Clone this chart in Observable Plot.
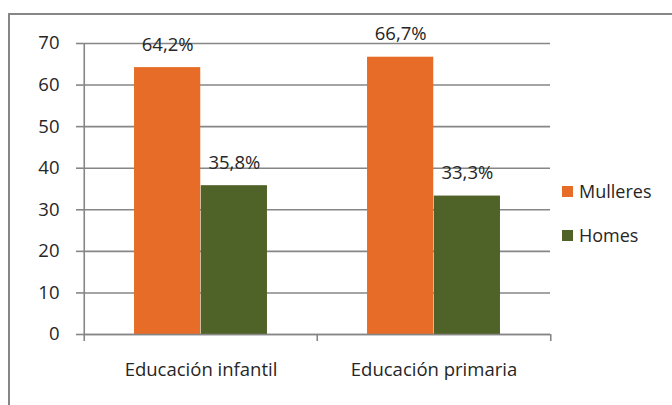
<!DOCTYPE html>
<html>
<head>
<meta charset="utf-8">
<script src="https://cdn.jsdelivr.net/npm/d3@7"></script>
<script src="https://cdn.jsdelivr.net/npm/@observablehq/plot@0.6"></script>
<style>
  html, body { margin: 0; padding: 0; background: #fff; overflow: hidden; width: 672px; height: 405px; }
  #wrap { position: relative; width: 672px; height: 405px; font-family: "Open Sans", sans-serif; }
  #border { position: absolute; left: 8px; top: 13px; width: 700px; height: 500px; border: 2px solid #868686; box-sizing: border-box; }
  #chart { position: absolute; left: 0; top: 0; }
  .leg { position: absolute; font-size: 18px; color: #262626; display: flex; align-items: center; line-height: 1; }
  .leg span.sw { display: inline-block; width: 11px; height: 11px; margin-right: 6px; }
</style>
</head>
<body>
<div id="wrap">
  <div id="border"></div>
  <div id="chart"></div>
  <div id="legend"></div>
</div>
<script>
const categories = ["Educación infantil", "Educación primaria"];
const series = ["Mulleres", "Homes"];
const mulleres = [64.2, 66.7];
const homes = [35.8, 33.3];
const yTicks = [0, 10, 20, 30, 40, 50, 60, 70];
const colors = ["#E66C28", "#4F6228"];

const data = [];
categories.forEach((c, i) => {
  data.push({cat: c, serie: series[0], value: mulleres[i]});
  data.push({cat: c, serie: series[1], value: homes[i]});
});

const W = 672, H = 405;
const mL = 83, mR = 122, mT = 43, mB = 71;
const plotW = W - mL - mR;
const plotH = H - mT - mB;
const step = plotW / categories.length;
const barW = step * 2 / 7;
const outer = step * 1.5 / 7;
const yMax = 70;
const tickExt = 7 * yMax / plotH;
const grid = "#868686";
const fs = 18.5;
const fmt = v => v.toFixed(1).replace(".", ",") + "%";

const boundaries = categories.map((c, i) => ({cat: c, top: i === 0 ? yMax : 0, dx: -step / 2}));
boundaries.push({cat: categories[categories.length - 1], top: 0, dx: step / 2});

const plot = Plot.plot({
  width: W, height: H,
  marginLeft: mL, marginRight: mR, marginTop: mT, marginBottom: mB,
  style: {background: "transparent", fontFamily: "Open Sans, sans-serif", color: "#262626", overflow: "visible"},
  x: {domain: categories, padding: 0, axis: null},
  y: {domain: [0, yMax], axis: null},
  marks: [
    Plot.gridY(yTicks, {stroke: grid, strokeOpacity: 1, strokeWidth: 1.6}),
    Plot.axisY(yTicks, {tickSize: 7, tickPadding: 17, stroke: grid, strokeWidth: 1.6, strokeOpacity: 1, fontSize: fs, fill: "#262626", label: null}),
    Plot.barY(data.filter(d => d.serie === series[0]), {x: "cat", y: "value", fill: colors[0], insetLeft: outer, insetRight: step - outer - barW}),
    Plot.barY(data.filter(d => d.serie === series[1]), {x: "cat", y: "value", fill: colors[1], insetLeft: outer + barW, insetRight: outer}),
    Plot.text(data.filter(d => d.serie === series[0]), {x: "cat", y: "value", text: d => fmt(d.value), dx: -barW / 2, dy: -23, fontSize: fs, fill: "#262626"}),
    Plot.text(data.filter(d => d.serie === series[1]), {x: "cat", y: "value", text: d => fmt(d.value), dx: barW / 2, dy: -23, fontSize: fs, fill: "#262626"}),
    Plot.ruleY([0], {stroke: grid, strokeWidth: 1.6}),
    ...boundaries.map(b => Plot.ruleX([b], {x: "cat", y1: -tickExt, y2: "top", dx: b.dx, stroke: grid, strokeWidth: 1.6})),
    Plot.axisX({tickSize: 0, tickPadding: 28, fontSize: fs, fill: "#262626", label: null})
  ]
});
document.getElementById("chart").appendChild(plot);

const legend = document.getElementById("legend");
const legTops = [182, 226];
series.forEach((s, i) => {
  const d = document.createElement("div");
  d.className = "leg";
  d.style.left = "562px";
  d.style.top = legTops[i] + "px";
  d.innerHTML = `<span class="sw" style="background:${colors[i]}"></span>${s}`;
  legend.appendChild(d);
});
</script>
</body>
</html>
